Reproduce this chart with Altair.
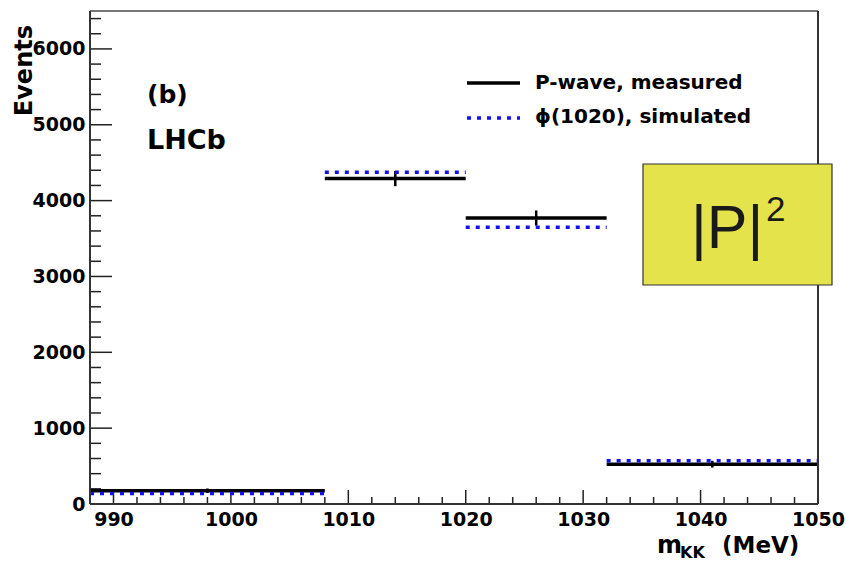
import altair as alt
import pandas as pd
import numpy as np

# ---- data ----
bin_lo = [988, 1008, 1020, 1032]
bin_hi = [1008, 1020, 1032, 1050]
measured = [175, 4290, 3770, 525]
measured_err = [30, 100, 100, 45]
err_x = [998, 1014, 1026, 1041]
simulated = [140, 4375, 3650, 570]

x_tick_labels = [990, 1000, 1010, 1020, 1030, 1040, 1050]
y_tick_labels = [0, 1000, 2000, 3000, 4000, 5000, 6000]
x_minor = list(range(990, 1051, 2))
y_minor = list(range(0, 6401, 200))

W, H = 728, 493
FONT = "DejaVu Sans"

df = pd.DataFrame({
    "lo": bin_lo, "hi": bin_hi, "meas": measured, "sim": simulated,
    "ex": err_x,
    "elo": [m - e for m, e in zip(measured, measured_err)],
    "ehi": [m + e for m, e in zip(measured, measured_err)],
})

xs = alt.Scale(domain=[988, 1050], nice=False, zero=False)
ys = alt.Scale(domain=[0, 6500], nice=False, zero=False)

xaxis = alt.Axis(values=x_tick_labels, title=None, ticks=False, domain=False, grid=False,
                 labelFont=FONT, labelFontWeight="bold", labelFontSize=19, labelColor="black",
                 labelPadding=6, format="d", labelFlush=False)
yaxis = alt.Axis(values=y_tick_labels, title=None, ticks=False, domain=False, grid=False,
                 labelFont=FONT, labelFontWeight="bold", labelFontSize=19, labelColor="black",
                 labelPadding=5, format="d", labelFlush=False)

base = alt.Chart(df)

meas_l = base.mark_rule(color="black", strokeWidth=3.5).encode(
    x=alt.X("lo:Q", scale=xs, axis=xaxis), x2="hi:Q",
    y=alt.Y("meas:Q", scale=ys, axis=yaxis))
sim_l = base.mark_rule(color="#1212F0", strokeWidth=3.5, strokeDash=[4, 6]).encode(
    x=alt.X("lo:Q", scale=xs, axis=xaxis), x2="hi:Q",
    y=alt.Y("sim:Q", scale=ys, axis=yaxis))
err_l = base.mark_rule(color="black", strokeWidth=2.5).encode(
    x=alt.X("ex:Q", scale=xs, axis=xaxis),
    y=alt.Y("elo:Q", scale=ys, axis=yaxis), y2="ehi:Q")

# axis ticks (pointing inwards)
xt = pd.DataFrame({"v": x_minor})
xt["major"] = xt["v"] % 10 == 0
yt = pd.DataFrame({"v": y_minor})
yt["major"] = yt["v"] % 1000 == 0

xtick_minor = alt.Chart(xt[~xt.major]).mark_rule(color="#222", strokeWidth=1.5).encode(
    x=alt.X("v:Q", scale=xs, axis=xaxis), y=alt.value(H), y2=alt.value(H - 7))
xtick_major = alt.Chart(xt[xt.major]).mark_rule(color="#222", strokeWidth=1.5).encode(
    x=alt.X("v:Q", scale=xs, axis=xaxis), y=alt.value(H), y2=alt.value(H - 14))
ytick_minor = alt.Chart(yt[~yt.major]).mark_rule(color="#222", strokeWidth=1.5).encode(
    y=alt.Y("v:Q", scale=ys, axis=yaxis), x=alt.value(0), x2=alt.value(11))
ytick_major = alt.Chart(yt[yt.major]).mark_rule(color="#222", strokeWidth=1.5).encode(
    y=alt.Y("v:Q", scale=ys, axis=yaxis), x=alt.value(0), x2=alt.value(22))

one = pd.DataFrame({"a": [0]})
ann = alt.Chart(one)

frame = [
    ann.mark_rule(color="#777", strokeWidth=2).encode(x=alt.value(0), x2=alt.value(W), y=alt.value(0)),
    ann.mark_rule(color="#333", strokeWidth=2).encode(x=alt.value(W), y=alt.value(0), y2=alt.value(H)),
    ann.mark_rule(color="#333", strokeWidth=2).encode(x=alt.value(0), x2=alt.value(W), y=alt.value(H)),
    ann.mark_rule(color="#333", strokeWidth=2).encode(x=alt.value(0), y=alt.value(0), y2=alt.value(H)),
]

def txt(s, x, y, size, weight="bold", align="left", baseline="middle", angle=0, font=FONT, color="black"):
    kw = dict(fontSize=size, fontWeight=weight, align=align, baseline=baseline, font=font, color=color)
    if angle:
        kw["angle"] = angle
    return ann.mark_text(**kw).encode(x=alt.value(x), y=alt.value(y), text=alt.value(s))

texts = [
    txt("Events", -58, 14, 24, align="right", baseline="alphabetic", angle=270),
    txt("m", 567, 542, 24, baseline="alphabetic"),
    txt("KK", 590, 547, 16, baseline="alphabetic"),
    txt("(MeV)", 632, 542, 23, baseline="alphabetic"),
    txt("(b)", 57, 84, 25),
    txt("LHCb", 57, 130, 27),
    txt("P-wave, measured", 445, 72, 20),
    txt("\u03d5(1020), simulated", 445, 106, 20),
]

leg_lines = [
    ann.mark_rule(color="black", strokeWidth=3.5).encode(x=alt.value(377), x2=alt.value(430), y=alt.value(72)),
    ann.mark_rule(color="#1212F0", strokeWidth=3.5, strokeDash=[4, 6]).encode(x=alt.value(377), x2=alt.value(430), y=alt.value(107)),
]

box = ann.mark_rect(fill="#E4E34B", stroke="#333", strokeWidth=1.2).encode(
    x=alt.value(553), x2=alt.value(742), y=alt.value(153), y2=alt.value(274))
box_txt = [
    txt("|P|", 601, 237, 61, weight="normal", baseline="alphabetic", font="Liberation Sans", color="#1a1a1a"),
    txt("2", 676, 210, 35, weight="normal", baseline="alphabetic", font="Liberation Sans", color="#1a1a1a"),
]

chart = alt.layer(
    xtick_minor, xtick_major, ytick_minor, ytick_major,
    meas_l, err_l, sim_l,
    *leg_lines, *texts, *frame, box, *box_txt,
).properties(
    width=W, height=H,
    autosize=alt.AutoSizeParams(type="none"),
    padding={"left": 90, "top": 11, "right": 28, "bottom": 59},
    background="white",
).configure_view(stroke=None)

chart.save("out.html", embed_options={"renderer": "svg", "actions": False})
